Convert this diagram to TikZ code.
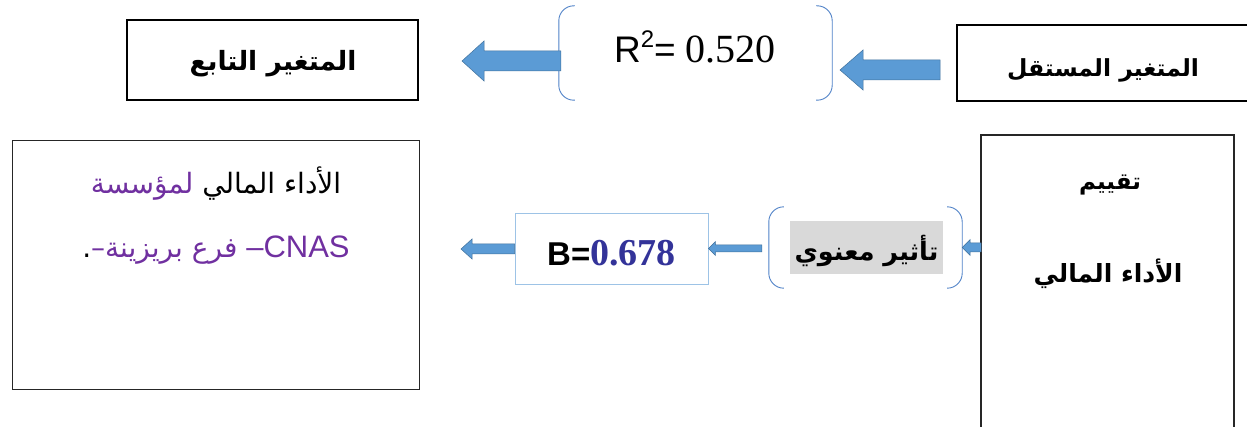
\documentclass[tikz,border=0pt]{standalone}
\usepackage{fontspec}
\setmainfont{Liberation Serif}
\newfontfamily\arabicfont[Script=Arabic]{DejaVu Sans}
\newfontfamily\arialf{Liberation Sans}
\newfontfamily\timesf{Liberation Serif}
\TeXXeTstate=1
\usetikzlibrary{calc}
\definecolor{purp}{HTML}{7030A0}
\definecolor{arrfill}{HTML}{5B9BD5}
\definecolor{arredge}{HTML}{41719C}
\definecolor{brkcol}{HTML}{4F81C7}
\definecolor{lblue}{HTML}{9DC3E6}
\definecolor{navy}{HTML}{333399}
\definecolor{hlgray}{HTML}{D9D9D9}
\newcommand\blockarrow[5]{%
  \filldraw[barrow] let \p1=#1, \p2=#2 in
    (\x1,\y1) -- (\x1+#3,\y1-#5) -- (\x1+#3,\y1-#4) -- (\x2,\y1-#4)
    -- (\x2,\y1+#4) -- (\x1+#3,\y1+#4) -- (\x1+#3,\y1+#5) -- cycle;}
\newcommand\arbsize[1]{\arabicfont\bfseries\fontsize{#1}{#1}\selectfont}
\begin{document}
\begin{tikzpicture}[x=1pt,y=-1pt,
  hdr/.style={draw=black,line width=1.6pt,inner sep=0pt},
  thinbox/.style={draw=black!85,line width=0.9pt,inner sep=0pt},
  ghost/.style={inner sep=0pt},
  brk/.style={draw=brkcol,line width=0.9pt,rounded corners=15pt},
  barrow/.style={fill=arrfill,draw=arredge,line width=0.5pt},
  lbl/.style={inner sep=0pt,anchor=base}]
\useasboundingbox (0,0) rectangle (1247,427);

% ---------- top row ----------
\node[hdr, minimum width=291pt, minimum height=80pt] (dep) at (272.5,60) {};
\node[lbl] (deptxt) at (273,71) {\arbsize{26.5}\beginR المتغير التابع\endR};

\draw[hdr] (1250,25) -- (957,25) -- (957,101) -- (1250,101);
\coordinate (indw) at (957,63);
\node[lbl] (indtxt) at (1103,77) {\arbsize{23.5}\beginR المتغير المستقل\endR};

\node[ghost, minimum width=273pt, minimum height=94pt] (r2box) at (695.5,53) {};
\draw[brk] ($(r2box.north west)+(16,0)$) -- (r2box.north west) -- (r2box.south west) -- ($(r2box.south west)+(16,0)$);
\draw[brk] ($(r2box.north east)+(-16,0)$) -- (r2box.north east) -- (r2box.south east) -- ($(r2box.south east)+(-16,0)$);
\node[lbl] (r2txt) at (695,63) {{\arialf\fontsize{37}{40}\selectfont R\raisebox{0.42em}{\fontsize{24}{24}\selectfont 2}= }{\timesf\fontsize{40}{44}\selectfont 0.520}};

\coordinate (t1) at (462,61);
\coordinate (t2) at (840,70);
\blockarrow{(t1)}{($(r2box.west)+(2,0)$)}{22pt}{10pt}{20pt}
\blockarrow{(t2)}{($(indw)+(-17,0)$)}{23pt}{10pt}{20pt}

% ---------- bottom row ----------
\node[thinbox, minimum width=407pt, minimum height=249pt] (perf) at (215.5,264.5) {};
\node[lbl] (l1) at (216,194) {\arabicfont\fontsize{28}{30}\selectfont
  \textcolor{purp}{\beginR لمؤسسة\endR}\ \beginR الأداء المالي\endR};
\node[lbl] (l2) at (216,258) {\arabicfont\fontsize{28}{30}\selectfont
  .\textcolor{purp}{–\beginR فرع بريزينة\endR\ {\arialf\fontsize{31}{32}\selectfont –CNAS}}};

\node[draw=lblue, line width=0.9pt, inner sep=0pt, minimum width=193pt, minimum height=71pt] (bbox) at (611.5,248.5) {};
\node[lbl] (btxt) at (611.5,266) {{\arialf\bfseries\fontsize{33}{36}\selectfont B=}{\timesf\bfseries\fontsize{38}{40}\selectfont\textcolor{navy}{0.678}}};

\node[ghost, minimum width=193pt, minimum height=81pt] (sig) at (865.5,247.5) {};
\draw[brk] ($(sig.north west)+(14,0)$) -- (sig.north west) -- (sig.south west) -- ($(sig.south west)+(14,0)$);
\draw[brk] ($(sig.north east)+(-14,0)$) -- (sig.north east) -- (sig.south east) -- ($(sig.south east)+(-14,0)$);
\node[fill=hlgray, inner sep=0pt, minimum width=153pt, minimum height=53pt] (sighl) at (866.5,247.5) {};
\node[lbl] (sigtxt) at (866.5,261) {\arbsize{25.5}\beginR تأثير معنوي\endR};

\draw[thinbox, line width=1.2pt] (981,430) -- (981,135) -- (1234,135) -- (1234,430);
\coordinate (evalw) at (981,249);
\node[lbl] (ev1) at (1110,190) {\arbsize{23}\beginR تقييم\endR};
\node[lbl] (ev2) at (1108,283) {\arbsize{25}\beginR الأداء المالي\endR};

\coordinate (t3) at (461,249);
\blockarrow{(t3)}{(bbox.west)}{11pt}{5pt}{10pt}
\blockarrow{(bbox.east)}{($(sig.west)+(-7,0)$)}{7pt}{3.5pt}{7pt}
\blockarrow{(sig.east)}{(evalw)}{8pt}{4.5pt}{8pt}
\end{tikzpicture}
\end{document}
